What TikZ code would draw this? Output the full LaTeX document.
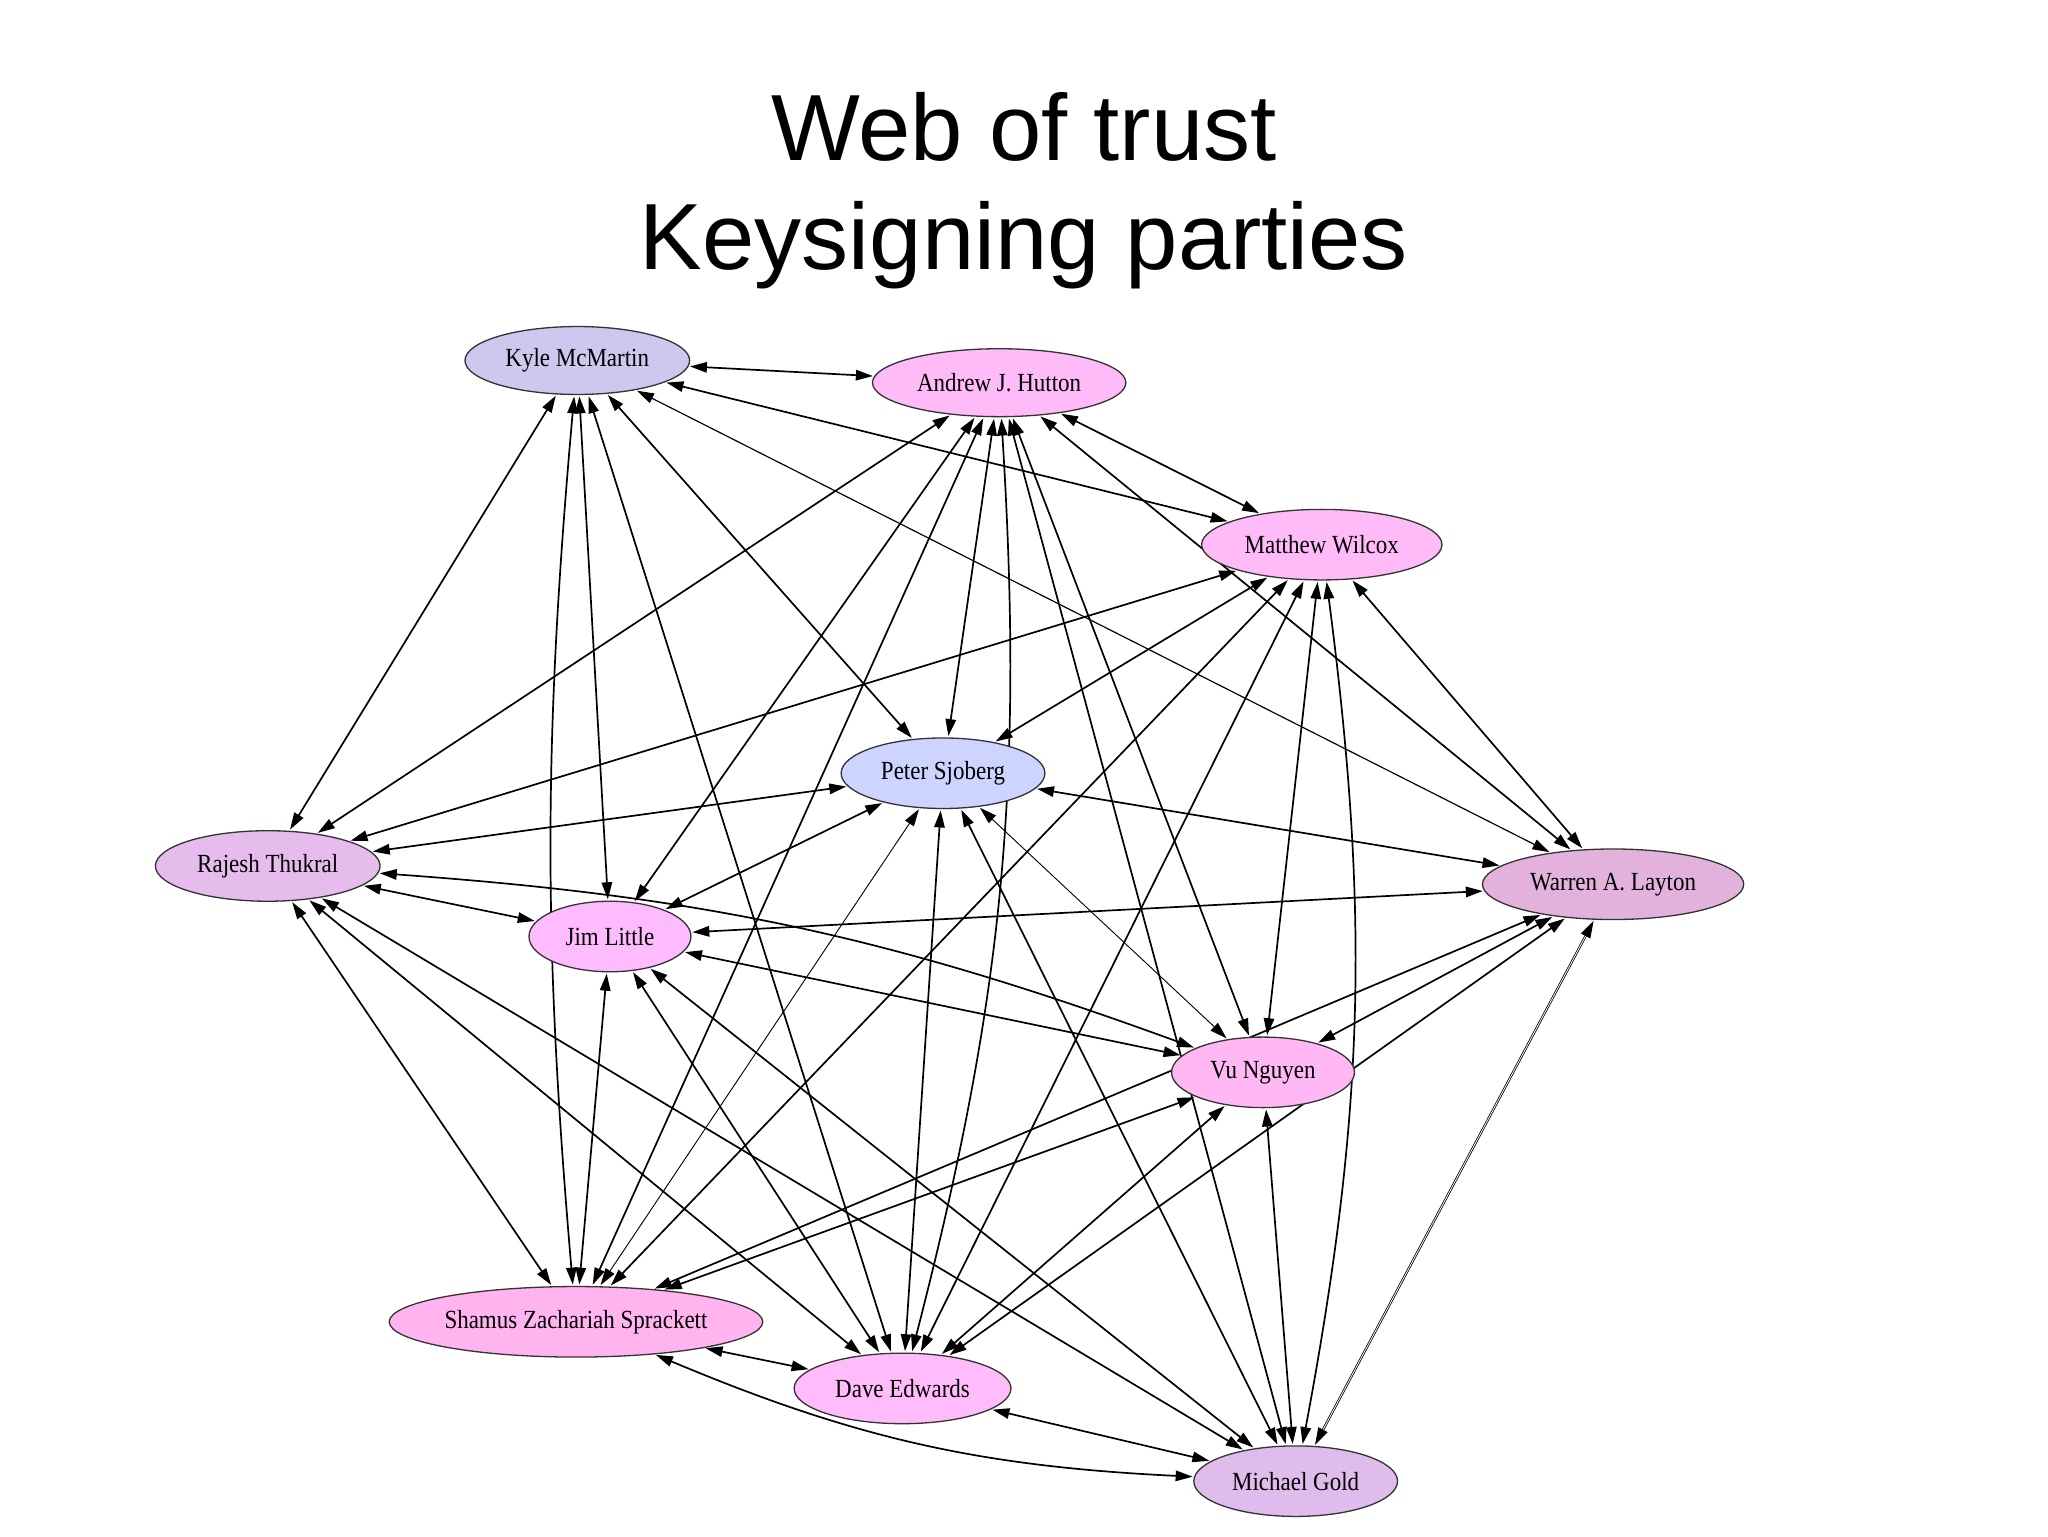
\documentclass[tikz,border=0pt]{standalone}
\usepackage{fontspec}
\setmainfont{Liberation Serif}[FakeStretch=0.88]
\newfontfamily\titlefont{Liberation Sans}
\usetikzlibrary{arrows.meta,shapes.geometric,backgrounds}
\begin{document}
\begin{tikzpicture}[x=1pt,y=-1pt,
  nd/.style={ellipse,draw=black!80,line width=1pt,inner sep=0pt,font=\fontsize{20}{22}\selectfont},
  e/.style={<->,>={Triangle[length=13pt,width=8pt]},line width=1.3pt,shorten <=1pt,shorten >=1pt}]
\useasboundingbox (0,0) rectangle (1568,1176);
\node[font=\titlefont\fontsize{72}{84}\selectfont,align=center] (title) at (784,146) {Web of trust\\Keysigning parties};
\node[nd,fill={rgb,255:red,204;green,200;blue,238},minimum width=172pt,minimum height=52pt] (ky) at (442,276) {Kyle McMartin};
\node[nd,fill={rgb,255:red,255;green,187;blue,248},minimum width=194pt,minimum height=52pt] (an) at (765,293) {Andrew J. Hutton};
\node[nd,fill={rgb,255:red,255;green,187;blue,248},minimum width=184pt,minimum height=54pt] (ma) at (1012,417) {Matthew Wilcox};
\node[nd,fill={rgb,255:red,204;green,212;blue,255},minimum width=156pt,minimum height=54pt] (pe) at (722,592) {Peter Sjoberg};
\node[nd,fill={rgb,255:red,230;green,188;blue,236},minimum width=172pt,minimum height=54pt] (ra) at (205,663) {Rajesh Thukral};
\node[nd,fill={rgb,255:red,226;green,178;blue,220},minimum width=200pt,minimum height=54pt] (wa) at (1235,677) {Warren A. Layton};
\node[nd,fill={rgb,255:red,255;green,187;blue,255},minimum width=124pt,minimum height=54pt] (ji) at (467,717) {Jim Little};
\node[nd,fill={rgb,255:red,255;green,184;blue,244},minimum width=140pt,minimum height=54pt] (vu) at (967,821) {Vu Nguyen};
\node[nd,fill={rgb,255:red,255;green,180;blue,240},minimum width=286pt,minimum height=54pt] (sh) at (441,1012) {Shamus Zachariah Sprackett};
\node[nd,fill={rgb,255:red,255;green,187;blue,250},minimum width=166pt,minimum height=54pt] (da) at (691,1063) {Dave Edwards};
\node[nd,fill={rgb,255:red,224;green,188;blue,236},minimum width=156pt,minimum height=54pt] (mi) at (992,1134) {Michael Gold};
\begin{scope}[on background layer]
% Kyle
\draw[e] (ky) -- (an); \draw[e] (ky) -- (ma); \draw[e] (ky) -- (ra);
\draw[e] (ky) to[bend right=5] (sh); \draw[e] (ky) -- (ji); \draw[e] (ky) -- (da);
\draw[e] (ky) -- (pe); \draw[e,line width=0.9pt] (ky) -- (wa);
% Andrew
\draw[e] (an) -- (ma); \draw[e] (an) -- (ra); \draw[e] (an) -- (ji); \draw[e] (an) -- (sh);
\draw[e] (an) -- (pe); \draw[e] (an) to[bend left=9] (da); \draw[e] (an) -- (mi); \draw[e] (an) -- (vu); \draw[e] (an) -- (wa);
% Matthew
\draw[e] (ma) -- (ra); \draw[e] (ma) -- (pe); \draw[e] (ma) -- (sh);
\draw[e] (ma) -- (da); \draw[e] (ma) -- (vu); \draw[e] (ma) to[bend left=9] (mi); \draw[e] (ma) -- (wa);
% Peter
\draw[e] (pe) -- (ra); \draw[e] (pe) -- (ji); \draw[e] (pe) -- (wa); \draw[e] (pe) -- (da);
\draw[e] (pe) -- (mi); \draw[e,line width=0.7pt] (pe) -- (vu); \draw[e,line width=0.7pt] (pe) -- (sh);
% Rajesh
\draw[e] (ra) -- (ji); \draw[e] (ra) to[bend left=8] (vu); \draw[e] (ra) -- (sh); \draw[e] (ra) -- (da); \draw[e] (ra) -- (mi);
% Jim
\draw[e] (ji) -- (wa); \draw[e] (ji) -- (vu); \draw[e] (ji) -- (sh); \draw[e] (ji) -- (da); \draw[e] (ji) -- (mi);
% Warren
\draw[e] (wa) -- (vu); \draw[e] (wa) -- (sh); \draw[e] (wa) -- (da); \draw[e,double,line width=0.6pt] (wa) -- (mi);
% Vu
\draw[e] (vu) -- (sh); \draw[e] (vu) -- (da); \draw[e] (vu) -- (mi);
% bottom
\draw[e] (sh) -- (da); \draw[e] (sh) to[bend right=10] (mi); \draw[e] (da) -- (mi);
\end{scope}
\end{tikzpicture}
\end{document}
